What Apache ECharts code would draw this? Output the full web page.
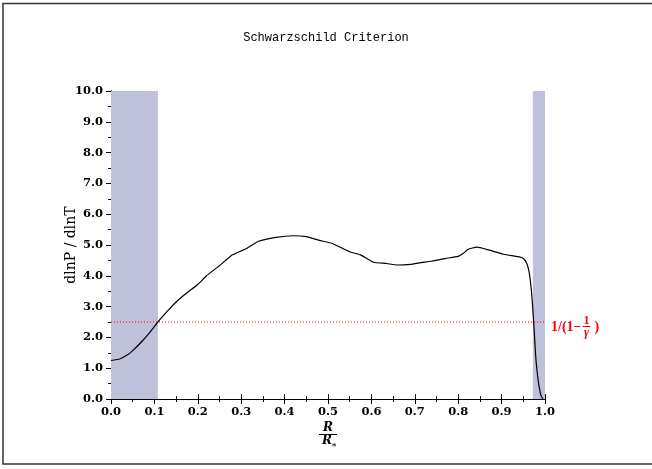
<!DOCTYPE html>
<html><head><meta charset="utf-8">
<script src="https://cdn.jsdelivr.net/npm/echarts@6/dist/echarts.min.js"></script>
<style>html,body{margin:0;padding:0;background:#fff}#c{width:652px;height:469px}</style>
</head><body><div id="c"></div>
<script>
const radius = [0.0, 0.02, 0.04, 0.05, 0.07, 0.09, 0.108, 0.13, 0.15, 0.175, 0.2, 0.22, 0.25, 0.28, 0.31, 0.34, 0.38, 0.42, 0.45, 0.48, 0.51, 0.55, 0.575, 0.605, 0.635, 0.66, 0.69, 0.71, 0.74, 0.77, 0.80, 0.812, 0.823, 0.843, 0.87, 0.905, 0.938, 0.95, 0.958, 0.963, 0.967, 0.970, 0.973, 0.976, 0.979, 0.983, 0.987, 0.991, 0.995];
const dlnPdlnT = [1.25, 1.30, 1.45, 1.57, 1.85, 2.17, 2.50, 2.85, 3.15, 3.45, 3.72, 4.00, 4.33, 4.68, 4.87, 5.12, 5.25, 5.30, 5.27, 5.15, 5.05, 4.78, 4.68, 4.44, 4.40, 4.35, 4.37, 4.42, 4.48, 4.56, 4.63, 4.73, 4.86, 4.93, 4.84, 4.70, 4.62, 4.57, 4.40, 4.15, 3.75, 3.30, 2.70, 2.00, 1.30, 0.75, 0.35, 0.10, 0.0];
const criterionValue = 2.5;
const shadedRanges = [[0.0, 0.108], [0.972, 1.0]];
const xTicks = ['0.0','0.1','0.2','0.3','0.4','0.5','0.6','0.7','0.8','0.9','1.0'];
const yTicks = ['0.0','1.0','2.0','3.0','4.0','5.0','6.0','7.0','8.0','9.0','10.0'];

const chart = echarts.init(document.getElementById('c'), null, {renderer: 'canvas'});
const tickFont = {fontFamily: 'DejaVu Serif', fontWeight: 'bold', fontSize: 11.5, color: '#000'};
const axisCommon = {
  axisLine: {show: true, lineStyle: {color: '#000', width: 1}},
  axisTick: {show: true, inside: false, length: 5, lineStyle: {color: '#000', width: 1}},
  minorTick: {show: true, splitNumber: 2, length: 3, lineStyle: {color: '#000', width: 1}},
  splitLine: {show: false}
};
const option = {
  animation: false,
  title: {text: 'Schwarzschild Criterion', left: 'center', top: 27,
    textStyle: {fontFamily: 'Liberation Mono', fontWeight: 'normal', fontSize: 12, color: '#000'}},
  grid: {left: 111, right: 107, top: 91, bottom: 70},
  xAxis: [
    Object.assign({type: 'value', min: 0, max: 1, interval: 0.1, position: 'bottom',
      axisLabel: Object.assign({margin: 7, formatter: (v) => xTicks[Math.round(v * 10)]}, tickFont)}, axisCommon),
    Object.assign({type: 'value', min: 0, max: 1, interval: 0.1, position: 'top',
      axisLabel: {show: false}}, axisCommon)
  ],
  yAxis: [
    Object.assign({type: 'value', min: 0, max: 10, interval: 1, position: 'left',
      name: 'dlnP / dlnT', nameLocation: 'middle', nameGap: 33, nameRotate: 90, nameMoveOverlap: false,
      nameTextStyle: {fontFamily: 'DejaVu Serif', fontSize: 14, color: '#000', verticalAlign: 'bottom'},
      axisLabel: Object.assign({margin: 8, formatter: (v) => yTicks[Math.round(v)]}, tickFont)}, axisCommon),
    Object.assign({type: 'value', min: 0, max: 10, interval: 1, position: 'right',
      axisLabel: {show: false}}, axisCommon)
  ],
  series: [
    {type: 'line', z: 1, data: [], silent: true,
      markArea: {silent: true, itemStyle: {color: '#bfc0d9', opacity: 1},
        data: shadedRanges.map(r => [{xAxis: r[0]}, {xAxis: r[1]}])}},
    {type: 'line', z: 3, showSymbol: false, symbol: 'none',
      data: [[0, criterionValue], [1, criterionValue]],
      lineStyle: {color: '#ff0000', width: 1, type: [1, 2]}},
    {type: 'line', z: 4, showSymbol: false, symbol: 'none', smooth: 0.15,
      data: radius.map((r, i) => [r, dlnPdlnT[i]]),
      lineStyle: {color: '#000', width: 1.2}}
  ]
};
chart.setOption(option);

const yc = chart.convertToPixel({yAxisIndex: 0}, criterionValue);
const xr = chart.convertToPixel({xAxisIndex: 0}, 1);
const xm = chart.convertToPixel({xAxisIndex: 0}, 0.5);
const yb = chart.convertToPixel({yAxisIndex: 0}, 0);
const ctx = document.createElement('canvas').getContext('2d');
ctx.font = 'bold 14px "Liberation Serif"';
const w1 = ctx.measureText('1/(1\u2212').width;
const redFont = {fontFamily: 'Liberation Serif', fontWeight: 'bold', fill: '#ff0000'};
const x0 = xr + 6;
const fx = x0 + w1 + 5;
chart.setOption({graphic: [
  {type: 'rect', silent: true, shape: {x: 3, y: 3.5, width: 700, height: 460.5},
    style: {fill: 'none', stroke: '#333', lineWidth: 1.5}},
  {type: 'text', x: x0, y: yc + 5, style: Object.assign({text: '1/(1\u2212', fontSize: 14, verticalAlign: 'middle'}, redFont)},
  {type: 'text', x: fx, y: yc - 1, style: Object.assign({text: '1', fontSize: 12, align: 'center', verticalAlign: 'middle'}, redFont)},
  {type: 'line', shape: {x1: fx - 4, y1: yc + 4.5, x2: fx + 4, y2: yc + 4.5}, style: {stroke: '#ff0000', lineWidth: 1}},
  {type: 'text', x: fx, y: yc + 11, style: Object.assign({text: '\u03b3', fontSize: 12, fontStyle: 'italic', align: 'center', verticalAlign: 'middle'}, redFont)},
  {type: 'text', x: fx + 8, y: yc + 5, style: Object.assign({text: ')', fontSize: 14, verticalAlign: 'middle'}, redFont)},
  {type: 'text', x: xm, y: yb + 29, style: {text: 'R', fontFamily: 'DejaVu Serif', fontStyle: 'italic', fontWeight: 'bold', fontSize: 12, fill: '#000', align: 'center', verticalAlign: 'middle'}},
  {type: 'line', shape: {x1: xm - 9, y1: yb + 35.5, x2: xm + 9, y2: yb + 35.5}, style: {stroke: '#000', lineWidth: 1}},
  {type: 'text', x: xm - 1, y: yb + 42, style: {text: 'R', fontFamily: 'DejaVu Serif', fontStyle: 'italic', fontWeight: 'bold', fontSize: 12, fill: '#000', align: 'center', verticalAlign: 'middle'}},
  {type: 'text', x: xm + 6, y: yb + 47, style: {text: '*', fontFamily: 'DejaVu Serif', fontWeight: 'bold', fontSize: 8, fill: '#000', align: 'center', verticalAlign: 'middle'}}
]});
</script></body></html>
